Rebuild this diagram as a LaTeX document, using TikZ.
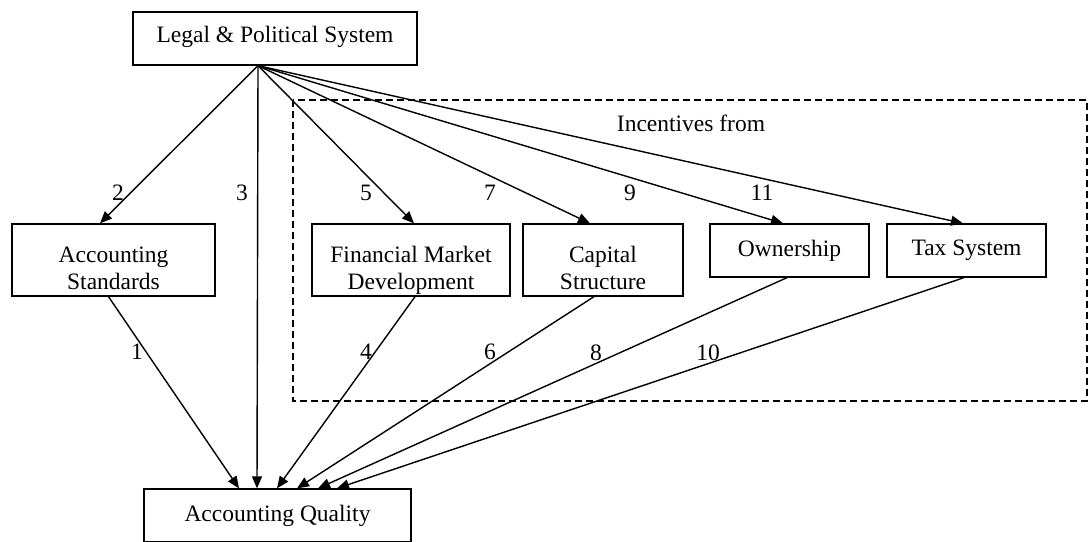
\documentclass[tikz,border=0pt]{standalone}
\usepackage{fontspec}
\setmainfont{Liberation Serif}
\usetikzlibrary{arrows.meta}
\newcommand{\lowstrut}[1][32pt]{\rule{0pt}{#1}}
\begin{document}
\begin{tikzpicture}[x=1pt,y=-1pt,
  box/.style={draw, line width=1.3pt, inner sep=0pt, align=center, font=\fontsize{23.5}{27}\selectfont},
  lab/.style={font=\fontsize{23.5}{27}\selectfont, inner sep=0pt},
  arr/.style={line width=1.4pt, -{Triangle[length=12pt,width=10pt]}},
  frame/.style={line width=1.2pt, dash pattern=on 7pt off 4pt}]
\useasboundingbox (0,0) rectangle (1089,541);
\fill[white] (0,0) rectangle (1089,541);
% dashed frame
\draw[frame] (293,100) rectangle (1087,401);
\node[lab] (inc) at (691,123) {Incentives from};
% boxes
\node[box, minimum width=284pt, minimum height=53pt, text depth=8pt] (lps) at (275,38.5) {Legal \& Political System};
\node[box, minimum width=203pt, minimum height=72pt] (as) at (113.5,260) {\lowstrut Accounting\\Standards};
\node[box, minimum width=198pt, minimum height=72pt] (fmd) at (411,260) {\lowstrut[37pt]Financial Market\\Development};
\node[box, minimum width=160pt, minimum height=72pt] (cs) at (603,260) {\lowstrut Capital\\Structure};
\node[box, minimum width=159pt, minimum height=53pt] (own) at (789.5,250.5) {Ownership};
\node[box, minimum width=159pt, minimum height=53pt] (tax) at (966.5,250.5) {Tax System};
\node[box, minimum width=267pt, minimum height=53pt] (aq) at (277.5,515.5) {Accounting Quality};
\coordinate (apex) at ([xshift=-17pt]lps.south);
% arrows from legal system
\draw[arr] (apex) -- ([xshift=-13.5pt]as.north);
\draw[arr] (apex) -- ([xshift=-20.5pt]aq.north);
\draw[arr] (apex) -- ([xshift=3pt]fmd.north);
\draw[arr] (apex) -- ([xshift=-13pt]cs.north);
\draw[arr] (apex) -- ([xshift=-6.5pt]own.north);
\draw[arr] (apex) -- ([xshift=-3.5pt]tax.north);
% arrows to accounting quality
\draw[arr] ([xshift=-5pt]as.south) -- ([xshift=-38.5pt]aq.north);
\draw[arr] ([xshift=4pt]fmd.south) -- ([xshift=-0.5pt]aq.north);
\draw[arr] ([xshift=-9pt]cs.south) -- ([xshift=19.5pt]aq.north);
\draw[arr] ([xshift=-2.5pt]own.south) -- ([xshift=40.5pt]aq.north);
\draw[arr] ([xshift=-2.5pt]tax.south) -- ([xshift=59.5pt]aq.north);
% labels
\node[lab] (l2) at (118,193) {2};
\node[lab] (l3) at (242,193) {3};
\node[lab] (l5) at (366,193) {5};
\node[lab] (l7) at (490,193) {7};
\node[lab] (l9) at (630,193) {9};
\node[lab] (l11) at (762,193) {11};
\node[lab] (l1) at (137,352) {1};
\node[lab] (l4) at (366,352) {4};
\node[lab] (l6) at (490,352) {6};
\node[lab] (l8) at (596,353) {8};
\node[lab] (l10) at (708,353) {10};
\end{tikzpicture}
\end{document}
